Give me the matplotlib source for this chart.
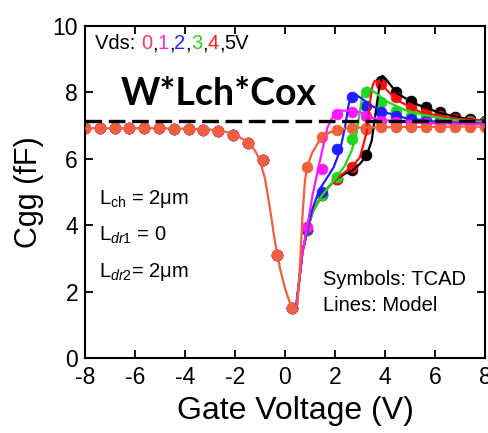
import matplotlib
matplotlib.use("Agg")
import matplotlib.pyplot as plt
from matplotlib.transforms import offset_copy

plt.rcParams['font.family'] = ['Liberation Sans', 'DejaVu Sans']
plt.rcParams['mathtext.fontset'] = 'custom'
plt.rcParams['mathtext.rm'] = 'Liberation Sans'
plt.rcParams['mathtext.it'] = 'Liberation Sans:italic'
plt.rcParams['axes.unicode_minus'] = False

# ---- data ----
vds_labels = ['0', '1', '2', '3', '4', '5']
colors = ['#f0603c', '#ff1aff', '#1f1fff', '#1ed81e', '#ff0d0d', '#000000']
label_colors = ['#ff3a5c', '#ff2ad8', '#2a2aff', '#2ccf2c', '#ff2020', '#000000']

# TCAD symbols
vg_sym = [-8.0, -7.41, -6.81, -6.22, -5.63, -5.04, -4.44, -3.85, -3.26, -2.67,
          -2.07, -1.48, -0.89, -0.30, 0.30, 0.89, 1.48, 2.07, 2.67, 3.26,
          3.85, 4.44, 5.04, 5.63, 6.22, 6.81, 7.41, 8.0]
cgg_left = [6.92, 6.92, 6.92, 6.92, 6.92, 6.92, 6.91, 6.90, 6.88, 6.83,
            6.72, 6.48, 5.97, 3.10, 1.50]
sym_right_vds0 = [5.75, 6.66, 6.88, 6.93, 6.94, 6.95, 6.95, 6.96, 6.96, 6.96, 6.97, 6.97, 6.97]
sym_right_vds1 = [3.95, 5.70, 7.35, 7.40, 7.28, 7.15, 7.10, 7.08, 7.07, 7.06, 7.05, 7.05, 7.05]
sym_right_vds2 = [3.90, 5.00, 6.30, 7.85, 7.60, 7.40, 7.28, 7.20, 7.15, 7.12, 7.10, 7.08, 7.07]
sym_right_vds3 = [3.85, 4.90, 5.45, 6.60, 8.00, 7.70, 7.45, 7.30, 7.22, 7.17, 7.13, 7.10, 7.10]
sym_right_vds4 = [3.85, 4.90, 5.40, 5.75, 6.90, 8.25, 7.85, 7.55, 7.40, 7.28, 7.20, 7.15, 7.12]
sym_right_vds5 = [3.85, 4.90, 5.40, 5.65, 6.10, 8.35, 8.00, 7.75, 7.57, 7.40, 7.27, 7.20, 7.15]
sym_right = [sym_right_vds0, sym_right_vds1, sym_right_vds2,
             sym_right_vds3, sym_right_vds4, sym_right_vds5]

# Model lines
line0_x = [-8, -5, -4, -3, -2.5, -2, -1.5, -1.2, -1.0, -0.8, -0.6, -0.4, -0.2, 0.0,
           0.2, 0.35, 0.5, 0.6, 0.7, 0.8, 0.9, 1.1, 1.3, 1.5, 1.8, 2.1, 2.5, 3, 4, 5, 6, 7, 8]
line0_y = [6.92, 6.92, 6.91, 6.88, 6.83, 6.74, 6.50, 6.25, 5.95, 5.40, 4.50, 3.50, 2.70, 2.10,
           1.65, 1.50, 1.60, 2.80, 4.30, 5.35, 5.80, 6.20, 6.45, 6.66, 6.80, 6.88, 6.92, 6.94,
           6.95, 6.96, 6.96, 6.97, 6.97]
line1_x = [0.45, 0.55, 0.7, 0.9, 1.1, 1.4, 1.7, 1.95, 2.2, 2.7, 3.1, 3.5, 4.0, 5, 6, 7, 8]
line1_y = [1.55, 2.2, 3.2, 4.0, 4.9, 5.95, 6.95, 7.32, 7.45, 7.45, 7.38, 7.23, 7.16, 7.10, 7.07, 7.06, 7.05]
line2_x = [0.45, 0.55, 0.7, 0.9, 1.1, 1.4, 1.7, 1.95, 2.2, 2.4, 2.55, 2.7, 2.85, 3.1, 3.4, 4.0, 4.8, 6, 7, 8]
line2_y = [1.55, 2.2, 3.2, 3.9, 4.5, 5.1, 5.45, 5.75, 6.25, 6.95, 7.65, 7.88, 7.92, 7.80, 7.62, 7.40, 7.23, 7.12, 7.08, 7.07]
line3_x = [0.45, 0.55, 0.7, 0.9, 1.1, 1.48, 1.8, 2.07, 2.4, 2.67, 2.87, 3.0, 3.13, 3.3, 3.6, 4.0, 4.8, 5.6, 6.7, 8]
line3_y = [1.55, 2.2, 3.2, 3.85, 4.4, 4.9, 5.2, 5.45, 5.8, 6.25, 6.8, 7.45, 8.05, 8.15, 8.0, 7.75, 7.47, 7.31, 7.17, 7.10]
line4_x = [0.45, 0.55, 0.7, 0.9, 1.1, 1.48, 1.8, 2.07, 2.4, 2.67, 3.0, 3.27, 3.4, 3.5, 3.6, 3.8, 4.07, 4.47, 5.4, 6.7, 8]
line4_y = [1.55, 2.2, 3.2, 3.85, 4.4, 4.9, 5.2, 5.4, 5.6, 5.75, 6.05, 6.8, 7.7, 8.2, 8.35, 8.3, 8.07, 7.77, 7.41, 7.22, 7.13]
line5_x = [0.45, 0.55, 0.7, 0.9, 1.1, 1.48, 1.8, 2.07, 2.4, 2.7, 3.0, 3.27, 3.47, 3.6, 3.77, 3.9, 4.07, 4.47, 5.13, 6.2, 7.47, 8]
line5_y = [1.55, 2.2, 3.2, 3.85, 4.4, 4.9, 5.2, 5.4, 5.55, 5.65, 5.85, 6.1, 6.55, 7.25, 8.15, 8.5, 8.37, 7.98, 7.68, 7.38, 7.17, 7.14]
lines = [(line0_x, line0_y), (line1_x, line1_y), (line2_x, line2_y),
         (line3_x, line3_y), (line4_x, line4_y), (line5_x, line5_y)]

wlcox = 7.14

# ---- figure ----
fig = plt.figure(figsize=(4.89, 4.33), dpi=100)
ax = fig.add_axes([0.1738, 0.1732, 0.818, 0.7668])

# markers: black bottom ... orange top
for i in [5, 4, 3, 2, 1, 0]:
    ax.plot(vg_sym, cgg_left + sym_right[i], 'o', color=colors[i], ms=7.8,
            mec=colors[i], mew=0.5, zorder=2 + (5 - i) * 0.1, linestyle='none')

for i in [5, 4, 3, 2, 1, 0]:
    lx, ly = lines[i]
    ax.plot(lx, ly, '-', color=colors[i], lw=1.6, zorder=3 + (5 - i) * 0.1)

ax.axhline(wlcox, color='black', lw=2.4, dashes=(5, 2), zorder=4)

ax.set_xlim(-8, 8)
ax.set_ylim(0, 10)
ax.set_xticks([-8, -6, -4, -2, 0, 2, 4, 6, 8])
ax.set_yticks([0, 2, 4, 6, 8, 10])
ax.tick_params(direction='in', top=True, right=True, length=6, width=1.3,
               labelsize=16.5)
ax.tick_params(axis='x', pad=6)
ax.tick_params(axis='y', pad=5)
for s in ax.spines.values():
    s.set_linewidth(1.5)
ax.set_xlabel('Gate Voltage (V)', fontsize=23, labelpad=2)
ax.xaxis.set_label_coords(0.527, -0.115)
ax.set_ylabel('Cgg (fF)', fontsize=22, labelpad=6)

# multi-colored Vds label
pieces = [('Vds: ', 'black'), ('0', label_colors[0]), (',', 'black'),
          ('1', label_colors[1]), (',', 'black'), ('2', label_colors[2]), (',', 'black'),
          ('3', label_colors[3]), (',', 'black'), ('4', label_colors[4]), (',', 'black'),
          ('5V', 'black')]
fig.canvas.draw()
renderer = fig.canvas.get_renderer()
x0, y0 = 0.025, 0.975
trans = ax.transAxes
for txt, col in pieces:
    t = ax.text(x0, y0, txt, color=col, fontsize=14.5, transform=trans,
                ha='left', va='top')
    bb = t.get_window_extent(renderer=renderer)
    trans = offset_copy(t.get_transform(), fig=fig, x=bb.width, units='dots')

ax.text(0.09, 0.795, 'W*Lch*Cox', fontsize=27, fontweight='bold',
        family=['Lato', 'DejaVu Sans'], transform=ax.transAxes, ha='left', va='center')

ax.text(0.035, 0.48, r'L$_{\mathrm{ch}}$ = 2$\mathrm{\mu}$m', fontsize=14.5, transform=ax.transAxes,
        ha='left', va='center')
ax.text(0.035, 0.37, r'L$_{\it{dr1}}$ = 0', fontsize=14.5, transform=ax.transAxes,
        ha='left', va='center')
ax.text(0.035, 0.26, r'L$_{\it{dr2}}$= 2$\mathrm{\mu}$m', fontsize=14.5, transform=ax.transAxes,
        ha='left', va='center')

ax.text(0.595, 0.235, 'Symbols: TCAD', fontsize=14.5, transform=ax.transAxes,
        ha='left', va='center')
ax.text(0.595, 0.158, 'Lines: Model', fontsize=14.5, transform=ax.transAxes,
        ha='left', va='center')

fig.savefig('out.png', dpi=100)
